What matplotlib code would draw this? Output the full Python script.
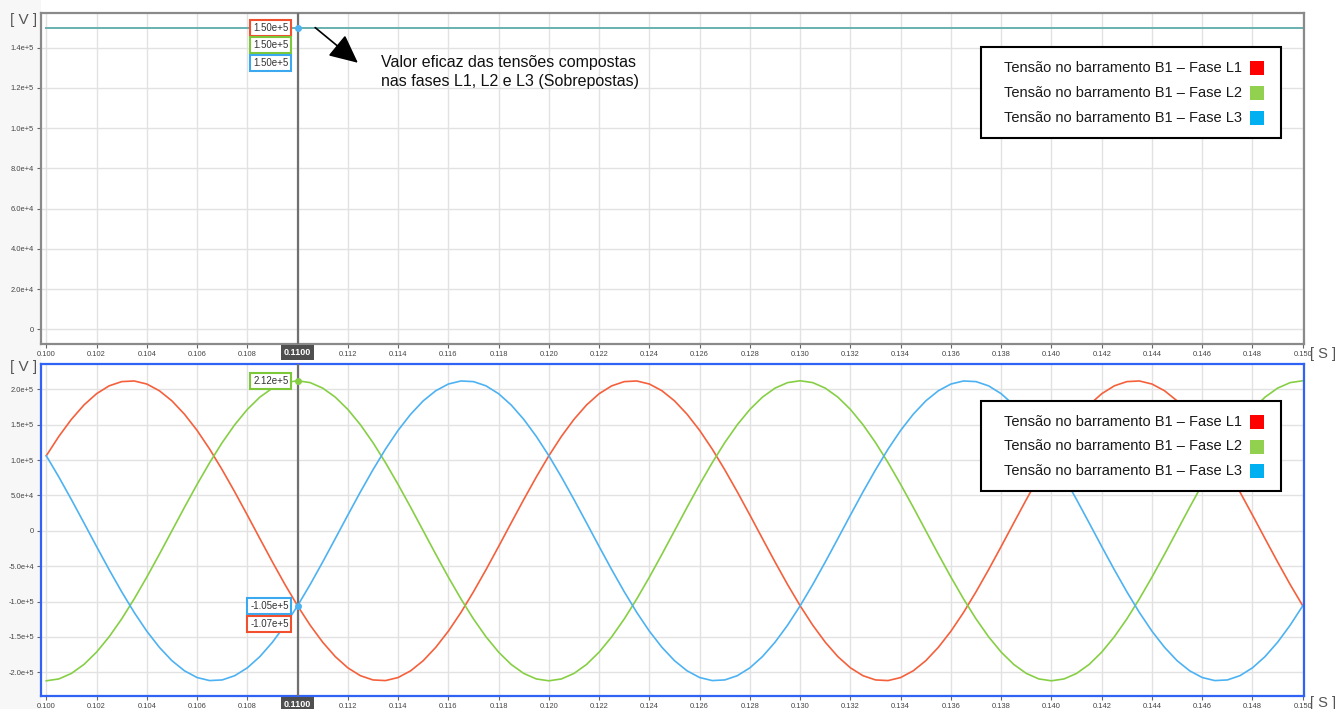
import matplotlib
matplotlib.use("Agg")
import numpy as np
import matplotlib.pyplot as plt
from matplotlib.patches import Rectangle
from matplotlib.ticker import FixedLocator, FuncFormatter

plt.rcParams["font.family"] = ["Liberation Sans", "DejaVu Sans"]

# ---- data (voltages in kV) ----
t_start, t_stop, n_samples = 0.100, 0.150, 101

l1_kv = [
    106.0, 133.4, 157.5, 177.8, 193.7, 204.8, 210.8, 211.7, 207.4, 197.9, 183.6, 164.7, 141.9, 115.5, 86.2, 54.9, 22.2, -11.1, -44.1, -76.0,
    -106.0, -133.4, -157.5, -177.8, -193.7, -204.8, -210.8, -211.7, -207.4, -197.9, -183.6, -164.7, -141.9, -115.5, -86.2, -54.9, -22.2, 11.1, 44.1, 76.0,
    106.0, 133.4, 157.5, 177.8, 193.7, 204.8, 210.8, 211.7, 207.4, 197.9, 183.6, 164.7, 141.9, 115.5, 86.2, 54.9, 22.2, -11.1, -44.1, -76.0,
    -106.0, -133.4, -157.5, -177.8, -193.7, -204.8, -210.8, -211.7, -207.4, -197.9, -183.6, -164.7, -141.9, -115.5, -86.2, -54.9, -22.2, 11.1, 44.1, 76.0,
    106.0, 133.4, 157.5, 177.8, 193.7, 204.8, 210.8, 211.7, 207.4, 197.9, 183.6, 164.7, 141.9, 115.5, 86.2, 54.9, 22.2, -11.1, -44.1, -76.0,
    -106.0,
]
l2_kv = [
    -212.0, -209.4, -201.6, -188.9, -171.5, -149.9, -124.6, -96.2, -65.5, -33.2, 0.0, 33.2, 65.5, 96.2, 124.6, 149.9, 171.5, 188.9, 201.6, 209.4,
    212.0, 209.4, 201.6, 188.9, 171.5, 149.9, 124.6, 96.2, 65.5, 33.2, 0.0, -33.2, -65.5, -96.2, -124.6, -149.9, -171.5, -188.9, -201.6, -209.4,
    -212.0, -209.4, -201.6, -188.9, -171.5, -149.9, -124.6, -96.2, -65.5, -33.2, 0.0, 33.2, 65.5, 96.2, 124.6, 149.9, 171.5, 188.9, 201.6, 209.4,
    212.0, 209.4, 201.6, 188.9, 171.5, 149.9, 124.6, 96.2, 65.5, 33.2, 0.0, -33.2, -65.5, -96.2, -124.6, -149.9, -171.5, -188.9, -201.6, -209.4,
    -212.0, -209.4, -201.6, -188.9, -171.5, -149.9, -124.6, -96.2, -65.5, -33.2, 0.0, 33.2, 65.5, 96.2, 124.6, 149.9, 171.5, 188.9, 201.6, 209.4,
    212.0,
]
l3_kv = [
    106.0, 76.0, 44.1, 11.1, -22.2, -54.9, -86.2, -115.5, -141.9, -164.7, -183.6, -197.9, -207.4, -211.7, -210.8, -204.8, -193.7, -177.8, -157.5, -133.4,
    -106.0, -76.0, -44.1, -11.1, 22.2, 54.9, 86.2, 115.5, 141.9, 164.7, 183.6, 197.9, 207.4, 211.7, 210.8, 204.8, 193.7, 177.8, 157.5, 133.4,
    106.0, 76.0, 44.1, 11.1, -22.2, -54.9, -86.2, -115.5, -141.9, -164.7, -183.6, -197.9, -207.4, -211.7, -210.8, -204.8, -193.7, -177.8, -157.5, -133.4,
    -106.0, -76.0, -44.1, -11.1, 22.2, 54.9, 86.2, 115.5, 141.9, 164.7, 183.6, 197.9, 207.4, 211.7, 210.8, 204.8, 193.7, 177.8, 157.5, 133.4,
    106.0, 76.0, 44.1, 11.1, -22.2, -54.9, -86.2, -115.5, -141.9, -164.7, -183.6, -197.9, -207.4, -211.7, -210.8, -204.8, -193.7, -177.8, -157.5, -133.4,
    -106.0,
]

# RMS values (flat, all three overlap)
rms_t = [0.100, 0.150]
rms_l1_kv = [150.0, 150.0]
rms_l2_kv = [150.0, 150.0]
rms_l3_kv = [150.0, 150.0]

cursor_t = 0.110
top_readouts = ["1.50e+5", "1.50e+5", "1.50e+5"]
bot_readout_l2 = ("2.12e+5", 212.0)
bot_readout_l3 = ("-1.05e+5", -106.0)
bot_readout_l1 = ("-1.07e+5", -106.0)

legend_labels = [
    "Tensão no barramento B1 – Fase L1",
    "Tensão no barramento B1 – Fase L2",
    "Tensão no barramento B1 – Fase L3",
]
top_yticks = [0, 2e4, 4e4, 6e4, 8e4, 1.0e5, 1.2e5, 1.4e5]
bot_yticks = [-2e5, -1.5e5, -1e5, -5e4, 0, 5e4, 1e5, 1.5e5, 2e5]
x_ticks = [round(0.100 + 0.002 * i, 3) for i in range(26)]

annot_text = "Valor eficaz das tensões compostas\nnas fases L1, L2 e L3 (Sobrepostas)"

# ---- styling ----
RED, GREEN, BLUE = "#f5603c", "#86cf45", "#4db2f2"
LEG_COLORS = ["#ff0000", "#92d050", "#00b0f0"]
BOX_COLORS = ["#f0502d", "#7cc83a", "#3ca8f0"]
W, H = 1335, 709


def fx(x):
    return x / W


def fy(y):
    return 1 - y / H


def e_fmt(v, pos=None):
    if v == 0:
        return "0"
    mant, exp = f"{v:.1e}".split("e")
    return f"{mant}e{int(exp):+d}"


def style_axes(ax, yticks, spine_color):
    ax.set_xlim(0.09979, 0.15005)
    ax.xaxis.set_major_locator(FixedLocator(x_ticks))
    ax.xaxis.set_major_formatter(
        FuncFormatter(lambda v, p: "" if abs(v - cursor_t) < 1e-6 else f"{v:.3f}"))
    ax.yaxis.set_major_locator(FixedLocator(yticks))
    ax.yaxis.set_major_formatter(FuncFormatter(e_fmt))
    ax.grid(True, color="#e2e2e2", lw=1.0)
    ax.set_axisbelow(True)
    ax.tick_params(labelsize=5.4, labelcolor="#444444", color="#666666",
                   length=3, width=0.8, pad=2)
    for s in ax.spines.values():
        s.set_color(spine_color)
        s.set_linewidth(1.6)
    ax.axvline(cursor_t, color="#707070", lw=1.6, zorder=4)
    ax.annotate("0.1100", xy=(cursor_t, 0), xycoords=ax.get_xaxis_transform(),
                xytext=(0, -8.5), textcoords="offset pixels", ha="center", va="center",
                fontsize=6.5, color="white", fontweight="bold",
                bbox=dict(boxstyle="square,pad=0.35", fc="#4f4f4f", ec="none"),
                annotation_clip=False, zorder=7)


def readout(ax, text, y, color, dy):
    ax.annotate(text, xy=(cursor_t, y), xytext=(-9, dy), textcoords="offset pixels",
                ha="right", va="center", fontsize=7, color="#333333",
                bbox=dict(boxstyle="square,pad=0.3", fc="white", ec=color, lw=1.5),
                zorder=8)


def draw_legend(top, bottom, rows):
    fig.add_artist(Rectangle((fx(981), fy(bottom)), fx(1281) - fx(981), fy(top) - fy(bottom),
                             transform=fig.transFigure, fc="white", ec="black", lw=1.5, zorder=10))
    for y, label, color in zip(rows, legend_labels, LEG_COLORS):
        fig.text(fx(1242), fy(y), label, ha="right", va="center", fontsize=10.5,
                 color="#1a1a1a", zorder=11)
        fig.add_artist(Rectangle((fx(1250), fy(y + 7)), 14 / W, 14 / H,
                                 transform=fig.transFigure, fc=color, ec="none", zorder=11))


fig = plt.figure(figsize=(W / 100, H / 100), dpi=100)
fig.add_artist(Rectangle((0, 0), fx(41), 1, transform=fig.transFigure,
                         fc="#f7f7f7", ec="none", zorder=-1))

ax_top = fig.add_axes([fx(41), fy(344), fx(1304) - fx(41), fy(12.5) - fy(344)])
ax_bot = fig.add_axes([fx(41), fy(696), fx(1304) - fx(41), fy(364) - fy(696)])

t = np.linspace(t_start, t_stop, n_samples)

# top panel: RMS
ax_top.plot(rms_t, np.array(rms_l1_kv) * 1e3, color=RED, lw=1.3)
ax_top.plot(rms_t, np.array(rms_l2_kv) * 1e3, color=GREEN, lw=1.3, alpha=0.8)
ax_top.plot(rms_t, np.array(rms_l3_kv) * 1e3, color=BLUE, lw=1.3, alpha=0.7)
ax_top.set_ylim(-7300, 157500)
style_axes(ax_top, top_yticks, "#8a8a8a")
ax_top.plot(cursor_t, rms_l3_kv[0] * 1e3, "o", color=BLUE, ms=4, zorder=6)
for i, (txt, col) in enumerate(zip(top_readouts, BOX_COLORS)):
    readout(ax_top, txt, rms_l1_kv[0] * 1e3, col, -17.5 * i)

ax_top.annotate("", xy=(0.1124, 1.325e5), xytext=(0.1107, 1.5e5),
                arrowprops=dict(arrowstyle="-|>,head_length=0.8,head_width=0.38",
                                color="black", lw=1.2, mutation_scale=22,
                                shrinkA=0, shrinkB=0), zorder=9)
ax_top.text(0.11332, 1.279e5, annot_text, ha="left", va="center",
            fontsize=11.5, color="#111111", linespacing=1.3, zorder=9)

# bottom panel: instantaneous voltages
ax_bot.plot(t, np.array(l1_kv) * 1e3, color=RED, lw=1.2)
ax_bot.plot(t, np.array(l2_kv) * 1e3, color=GREEN, lw=1.2)
ax_bot.plot(t, np.array(l3_kv) * 1e3, color=BLUE, lw=1.2)
ax_bot.set_ylim(-2.335e5, 2.357e5)
style_axes(ax_bot, bot_yticks, "#2f62f5")
ax_bot.plot(cursor_t, bot_readout_l2[1] * 1e3, "o", color=GREEN, ms=4, zorder=6)
ax_bot.plot(cursor_t, bot_readout_l3[1] * 1e3, "o", color=BLUE, ms=4, zorder=6)
readout(ax_bot, bot_readout_l2[0], bot_readout_l2[1] * 1e3, BOX_COLORS[1], 0)
readout(ax_bot, bot_readout_l3[0], bot_readout_l3[1] * 1e3, BOX_COLORS[2], 0)
readout(ax_bot, bot_readout_l1[0], bot_readout_l1[1] * 1e3, BOX_COLORS[0], -18)

draw_legend(47, 138, [68, 93, 118])
draw_legend(401, 491, [422, 446.5, 471])

for y in (20, 367):
    fig.text(fx(24), fy(y), "[ V ]", ha="center", va="center", fontsize=11, color="#555555")
for y in (354, 703):
    fig.text(fx(1323.5), fy(y), "[ S ]", ha="center", va="center", fontsize=10.5, color="#555555")

fig.savefig("out.png", dpi=100)
